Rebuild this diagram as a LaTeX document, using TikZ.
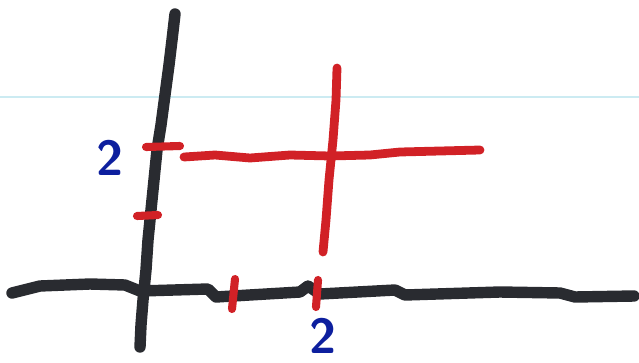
\documentclass[tikz,border=0pt]{standalone}
\usepackage{tikz}
\definecolor{penblack}{rgb}{0.16, 0.17, 0.19}
\definecolor{penred}{rgb}{0.82, 0.13, 0.15}
\definecolor{penblue}{rgb}{0.05, 0.12, 0.62}
\definecolor{paperline}{rgb}{0.80, 0.92, 0.95}
\tikzstyle{axisline} = [penblack, line width=6.5pt, line cap=round, line join=round]
\tikzstyle{redline} = [penred, line width=5pt, line cap=round, line join=round]
\tikzstyle{redtick} = [penred, line width=4.6pt, line cap=round]
\tikzstyle{bluelabel} = [penblue, font=\sffamily\bfseries\fontsize{28}{28}\selectfont, inner sep=0pt]

\begin{document}
\begin{tikzpicture}[x=0.02cm, y=-0.02cm]
    \useasboundingbox (0,0) rectangle (639,362);
    % paper ruling
    \draw[paperline, line width=1pt] (0,97) -- (639,97);
    % axes
    \draw[axisline] (175,14) -- (172,40) -- (169,65) -- (165,95) -- (161,125) -- (157,150) -- (154,180) -- (151,210) -- (148,240) -- (146,270) -- (143,300) -- (141,325) -- (140,347);
    \draw[axisline] (12,293) -- (40,286) -- (90,284) -- (125,285) -- (140,291) -- (208,289) -- (216,297) -- (300,292) -- (308,286) -- (320,294) -- (395,290) -- (405,295) -- (500,292) -- (560,293) -- (575,297) -- (634,296);
    % red cross
    \draw[redline] (184,157) -- (215,155) -- (250,158) -- (290,155) -- (330,156) -- (370,155) -- (400,152) -- (440,151) -- (480,150);
    \draw[redline] (337,68) -- (336,100) -- (333,140) -- (329,180) -- (326,220) -- (323,252);
    % ticks
    \draw[redtick] (146,147) -- (180,146);
    \draw[redtick] (137,216) -- (158,215);
    \draw[redtick] (235,279) -- (232,309);
    \draw[redtick] (318,280) -- (316,307);
    % labels
    \node (ylab) [bluelabel] at (110,158) {2};
    \node (xlab) [bluelabel] at (323,336) {2};
\end{tikzpicture}
\end{document}
